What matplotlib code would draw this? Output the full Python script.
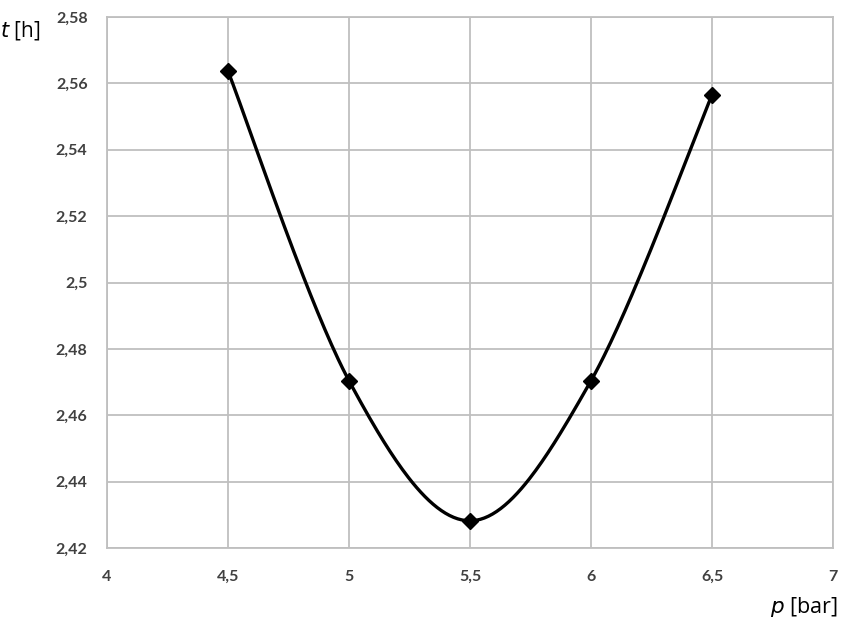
import numpy as np
import matplotlib
matplotlib.use("Agg")
import matplotlib.pyplot as plt
from matplotlib.ticker import FuncFormatter

pressure = [4.5, 5.0, 5.5, 6.0, 6.5]
time_h = [2.5637, 2.4704, 2.4282, 2.4704, 2.5565]
x_ticks = [4, 4.5, 5, 5.5, 6, 6.5, 7]
y_ticks = [2.42, 2.44, 2.46, 2.48, 2.50, 2.52, 2.54, 2.56, 2.58]

def smooth(xs, ys, n=60):
    xs = np.asarray(xs, float); ys = np.asarray(ys, float)
    px = np.concatenate([[xs[0]], xs, [xs[-1]]])
    py = np.concatenate([[ys[0]], ys, [ys[-1]]])
    outx, outy = [], []
    t = np.linspace(0, 1, n)
    for i in range(1, len(px) - 2):
        p0, p1, p2, p3 = [np.array([px[j], py[j]]) for j in (i-1, i, i+1, i+2)]
        c1 = p1 + (p2 - p0) / 6
        c2 = p2 - (p3 - p1) / 6
        b = ((1-t)**3)[:, None]*p1 + (3*(1-t)**2*t)[:, None]*c1 + (3*(1-t)*t**2)[:, None]*c2 + (t**3)[:, None]*p2
        outx.extend(b[:, 0]); outy.extend(b[:, 1])
    return outx, outy

def fmt(v, pos):
    s = f"{v:.2f}".rstrip("0").rstrip(".") if v != int(v) else f"{int(v)}"
    return s.replace(".", ",")

fig = plt.figure(figsize=(8.41, 6.23), dpi=100)
ax = fig.add_axes([107/841, 1-548/623, (833-107)/841, (548-17)/623])

sx, sy = smooth(pressure, time_h)
ax.plot(sx, sy, color="black", lw=2.4, zorder=3, solid_capstyle="round")
ax.plot(pressure, time_h, linestyle="none", marker="D", markersize=8, color="black", zorder=4)

ax.set_xlim(4, 7)
ax.set_ylim(2.42, 2.58)
ax.set_xticks(x_ticks)
ax.set_yticks(y_ticks)
ax.xaxis.set_major_formatter(FuncFormatter(fmt))
ax.yaxis.set_major_formatter(FuncFormatter(fmt))
ax.grid(True, color="#bfbfbf", lw=1.3)
ax.set_axisbelow(True)
for s in ax.spines.values():
    s.set_color("#bfbfbf"); s.set_linewidth(1.3)
ax.tick_params(length=0, labelsize=11.5, labelcolor="#404040")
ax.tick_params(axis="y", pad=14)
ax.tick_params(axis="x", pad=16)
for lab in ax.get_xticklabels() + ax.get_yticklabels():
    lab.set_fontfamily("Lato")
    lab.set_fontweight("bold")

fig.text(0/841, 1-30/623, r"$t$ [h]", fontsize=15, va="center", ha="left", fontfamily="Open Sans")
fig.text(838/841, 1-607/623, r"$p$ [bar]", fontsize=15.5, va="center", ha="right", fontfamily="Open Sans")

fig.savefig("out.png", dpi=100)
